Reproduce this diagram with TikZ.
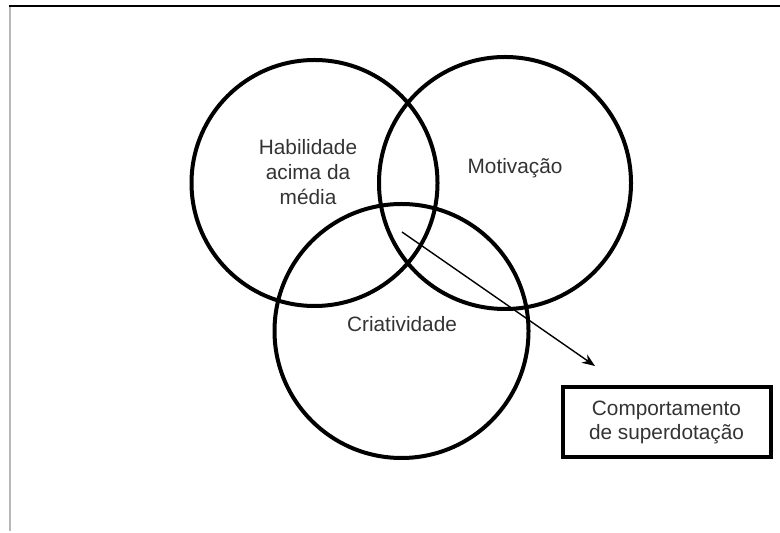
\documentclass[tikz,border=0pt]{standalone}
\usepackage{fontspec}
\setmainfont{Liberation Sans}
\usetikzlibrary{arrows.meta}
\definecolor{txtgray}{HTML}{333333}
\definecolor{framegray}{HTML}{B8B8B8}
\tikzset{
  ring/.style={line width=2pt},
  lbl/.style={text=txtgray,align=center,font=\fontsize{10.4}{12.4}\selectfont},
  outbox/.style={draw,line width=2pt,minimum width=104pt,minimum height=35pt,text=txtgray,align=center,font=\fontsize{10.4}{12}\selectfont}
}
\begin{document}
\begin{tikzpicture}[x=0.5pt,y=-0.5pt,>={Stealth[length=6.5pt,width=5pt]}]
	\useasboundingbox (0,0) rectangle (780,533);
	% moldura
	\draw[framegray,line width=1pt] (10,6)--(10,531);
	\draw[line width=1pt] (9,6)--(780,6);
	% circulos
	\draw[ring] (314.5,183) circle (123);
	\draw[ring] (505,183) circle (126);
	\draw[ring] (401.5,331) circle (127);
	\node[lbl] (hab) at (308,172) {Habilidade\\acima da\\média};
	\node[lbl] (mot) at (515,168) {Motivação};
	\node[lbl] (cri) at (402,324) {Criatividade};
	\node[outbox] (comp) at (666.5,422) {Comportamento\\de superdotação};
	\coordinate (ini) at (402,232);
	\coordinate (fim) at (595,366);
	\draw[->,line width=0.7pt] (ini)--(fim);
\end{tikzpicture}
\end{document}
